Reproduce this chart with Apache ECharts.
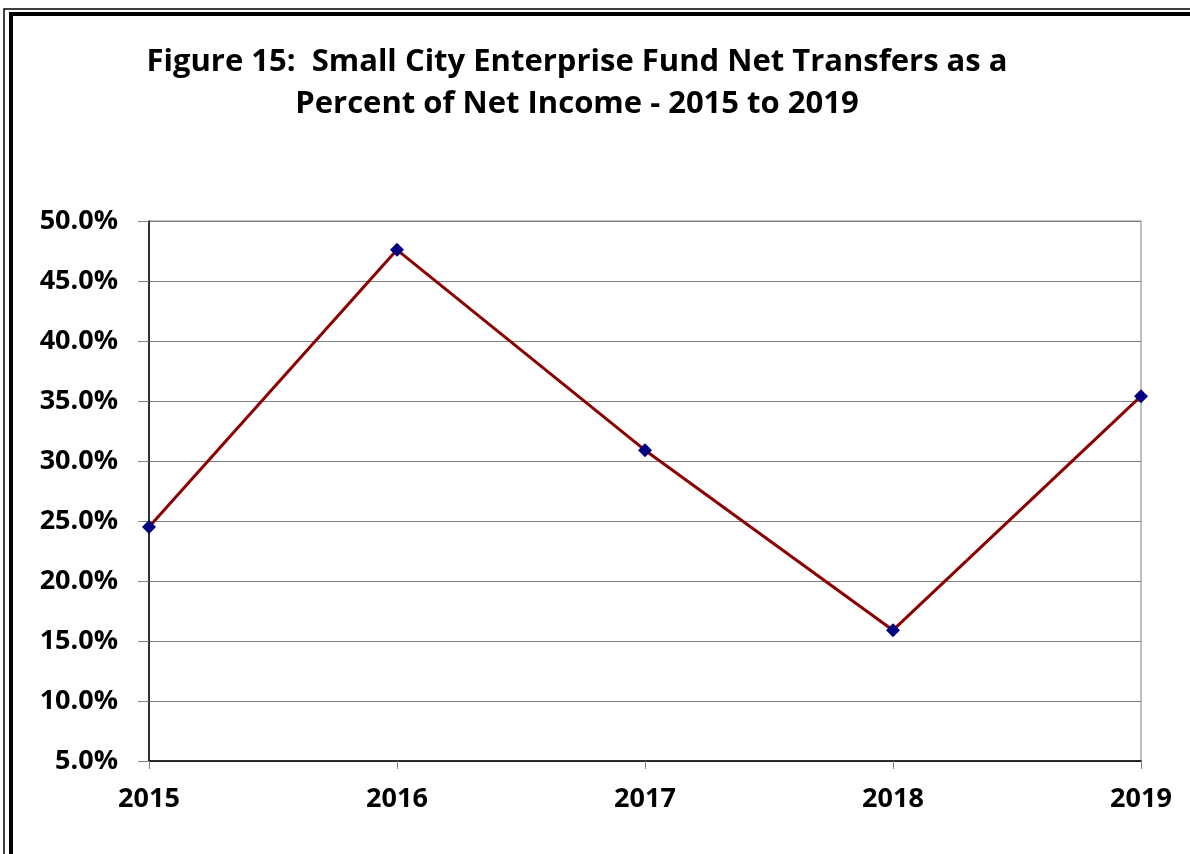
<!DOCTYPE html>
<html>
<head>
<meta charset="utf-8">
<script src="https://cdn.jsdelivr.net/npm/echarts@6/dist/echarts.min.js"></script>
<style>
  html, body { margin: 0; padding: 0; background: #fff; }
  #chart { width: 1190px; height: 854px; }
</style>
</head>
<body>
<div id="chart"></div>
<script>
const years = ['2015', '2016', '2017', '2018', '2019']
const netTransferPct = [24.5, 47.6, 30.9, 15.9, 35.4]
const titleLines = [
  'Figure 15:  Small City Enterprise Fund Net Transfers as a',
  'Percent of Net Income - 2015 to 2019'
]

const FONT = '"Open Sans", sans-serif'

const chart = echarts.init(document.getElementById('chart'))

const option = {
  backgroundColor: '#fff',
  animation: false,
  title: {
    text: titleLines.join('\n'),
    left: 572,
    textAlign: 'center',
    top: 36,
    textStyle: {
      fontFamily: FONT,
      fontWeight: 'bold',
      fontSize: 31,
      lineHeight: 42,
      color: '#000'
    }
  },
  graphic: [
    { type: 'rect', shape: { x: 4, y: 9, width: 1300, height: 1000 },
      style: { fill: 'none', stroke: '#000', lineWidth: 1.5 } },
    { type: 'rect', shape: { x: 11, y: 14, width: 1300, height: 1000 },
      style: { fill: 'none', stroke: '#000', lineWidth: 4 } }
  ],
  grid: {
    left: 149,
    right: 49,
    top: 221,
    bottom: 93,
    show: true,
    borderColor: '#808080',
    borderWidth: 1
  },
  xAxis: {
    type: 'category',
    data: years,
    boundaryGap: false,
    axisLine: { lineStyle: { color: '#000', width: 1.5 } },
    axisTick: { show: true, length: 8, lineStyle: { color: '#808080' } },
    axisLabel: {
      fontFamily: FONT,
      fontWeight: 'bold',
      fontSize: 27,
      color: '#000',
      margin: 25
    },
    splitLine: { show: false }
  },
  yAxis: {
    type: 'value',
    min: 5,
    max: 50,
    interval: 5,
    axisLine: { show: true, lineStyle: { color: '#000', width: 1.5 } },
    axisTick: { show: true, length: 11, lineStyle: { color: '#808080' } },
    axisLabel: {
      fontFamily: FONT,
      fontWeight: 'bold',
      fontSize: 27,
      color: '#000',
      margin: 31,
      formatter: v => v.toFixed(1) + '%'
    },
    splitLine: { show: true, lineStyle: { color: '#808080', width: 1 } }
  },
  series: [{
    type: 'line',
    data: netTransferPct,
    symbol: 'diamond',
    symbolSize: 14,
    lineStyle: { color: '#8B0000', width: 3 },
    itemStyle: { color: '#000080' }
  }]
}

chart.setOption(option)
</script>
</body>
</html>
